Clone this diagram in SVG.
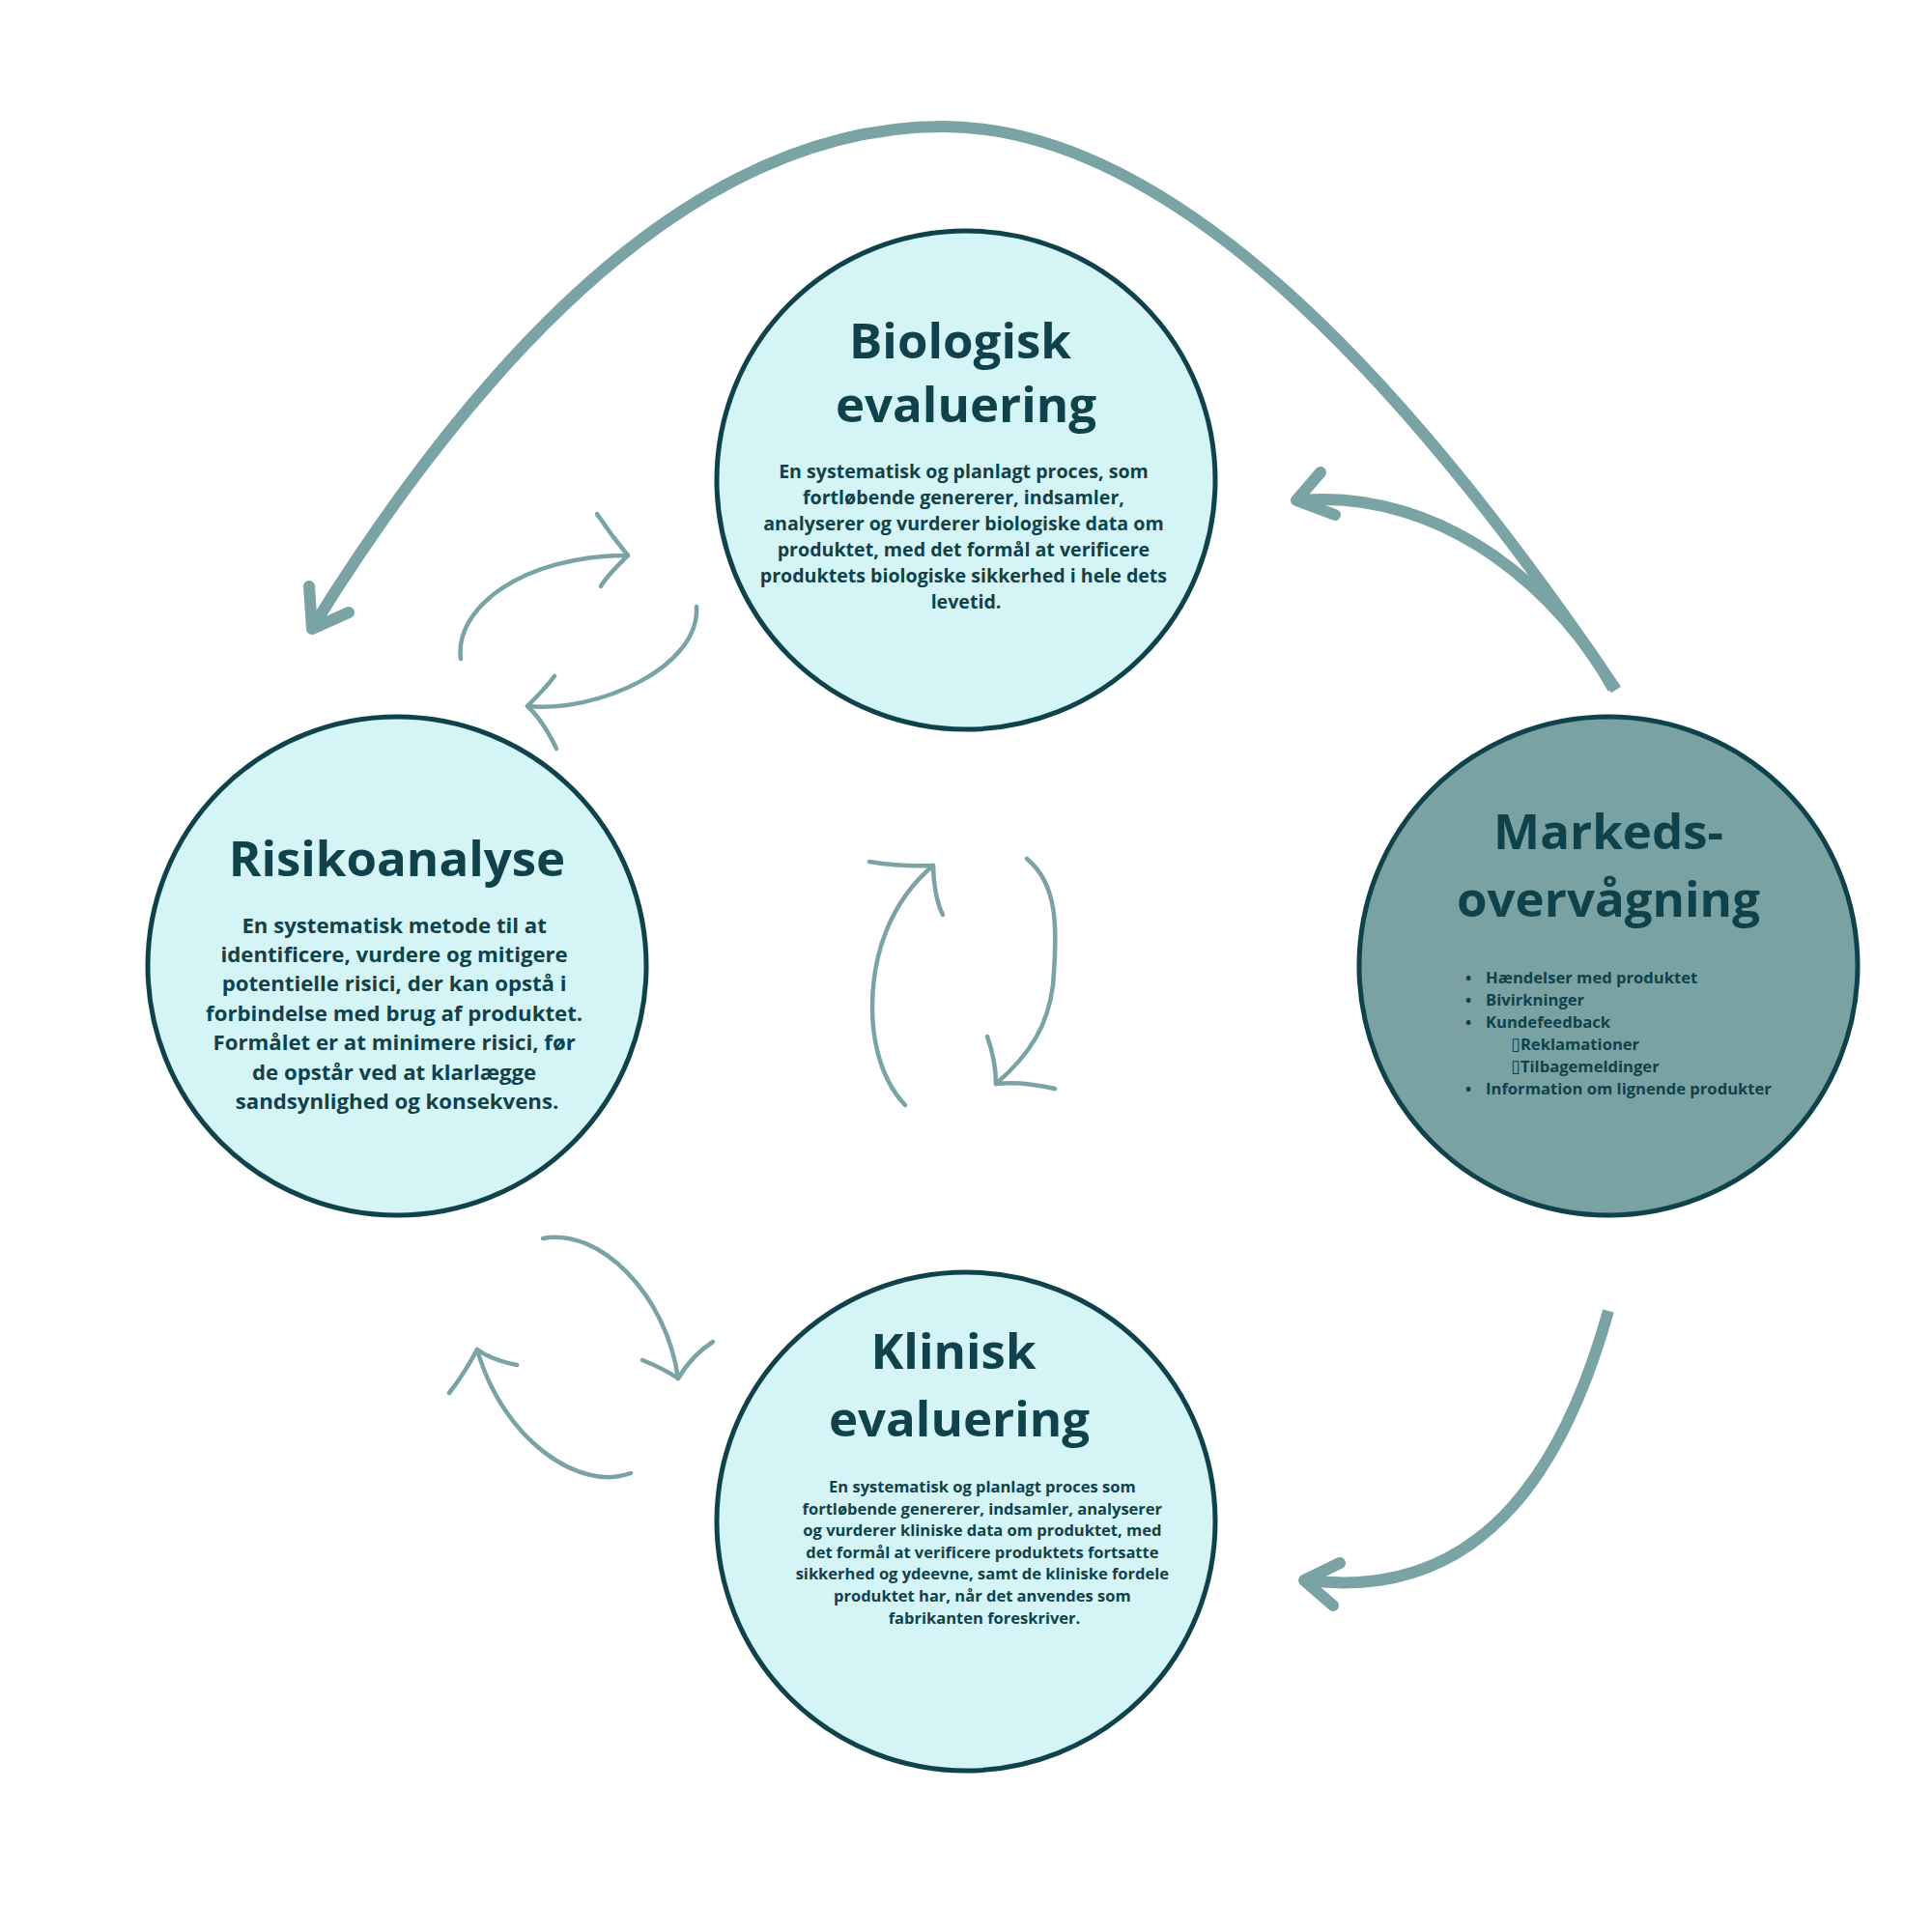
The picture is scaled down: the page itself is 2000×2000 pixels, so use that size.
<svg xmlns="http://www.w3.org/2000/svg" width="2000" height="2000" viewBox="0 0 2000 2000">
<style>
.node-light{fill:#d5f4f6;stroke:#0f424a;stroke-width:5}
.node-dark{fill:#7aa2a3;stroke:#0f424a;stroke-width:5}
.title{font-family:"Open Sans","Noto Sans",sans-serif;font-weight:700;font-size:51px;fill:#0f424a;text-anchor:middle}
.body{font-family:"Open Sans","Noto Sans",sans-serif;font-weight:700;fill:#0f424a;text-anchor:middle}
.list{font-family:"Open Sans","Noto Sans",sans-serif;font-weight:700;font-size:16.6px;fill:#0f424a}
.box{font-family:"DejaVu Sans",sans-serif;font-weight:400;font-size:18px}
.big{fill:none;stroke:#7aa3a5;stroke-width:12;stroke-linecap:butt}
.head{fill:none;stroke:#7aa3a5;stroke-width:12;stroke-linecap:round;stroke-linejoin:round}
.thin{fill:none;stroke:#7aa3a5;stroke-width:4.5;stroke-linecap:round;stroke-linejoin:round}
</style>
<rect width="2000" height="2000" fill="#ffffff"/>

<g id="connectors">
  <path class="big" d="M1673 714 C1477 424 1226 131 976 131 C726 131 508.5 352.5 325 647"/>
  <path class="head" d="M320 607 L323 651 L361 634"/>

  <path class="big" d="M1670 713 C1620 620 1500 505 1346 518"/>
  <path class="head" d="M1367 489 L1342 518 L1382 533"/>

  <path class="big" d="M1665 1357 C1625 1500 1545 1660 1354 1636"/>
  <path class="head" d="M1387 1618 L1350 1636 L1380 1662"/>

  <path class="thin" d="M477 682 C470 630 540 575 650 575"/>
  <path class="thin" d="M618 532 C630 550 640 563 650 575 C640 585 628 596 622 607"/>

  <path class="thin" d="M721 628 C725 690 620 738 546 731"/>
  <path class="thin" d="M574 700 C565 712 555 722 546 731 C558 742 568 758 576 775"/>

  <path class="thin" d="M937 1144 C905 1110 903 1060 903 1043 C903 990 920 935 966 896"/>
  <path class="thin" d="M900 892 C925 896 945 897 966 896 C966 915 970 935 976 947"/>

  <path class="thin" d="M1063 889 C1095 915 1095 960 1090 1020 C1085 1060 1068 1090 1031 1122"/>
  <path class="thin" d="M1022 1073 C1028 1090 1031 1108 1031 1122 C1050 1120 1070 1122 1092 1127"/>

  <path class="thin" d="M562 1282 C620 1270 690 1340 702 1427"/>
  <path class="thin" d="M665 1408 C680 1414 692 1420 702 1427 C712 1410 724 1398 738 1389"/>

  <path class="thin" d="M653 1525 C600 1545 520 1490 494 1397"/>
  <path class="thin" d="M465 1442 C476 1428 486 1412 494 1397 C505 1405 520 1410 535 1413"/>
</g>

<g id="node-biologisk">
  <circle class="node-light" cx="1000" cy="497" r="258"/>
  <text class="title" x="994" y="371">Biologisk</text>
  <text class="title" x="1000" y="437">evaluering</text>
  <text class="body" font-size="19.6">
    <tspan x="1000" y="495">En systematisk og planlagt proces, som</tspan>
    <tspan x="1000" y="522">fortløbende genererer, indsamler,</tspan>
    <tspan x="1000" y="549">analyserer og vurderer biologiske data om</tspan>
    <tspan x="1000" y="576">produktet, med det formål at verificere</tspan>
    <tspan x="1000" y="603">produktets biologiske sikkerhed i hele dets</tspan>
    <tspan x="1000" y="630">levetid.</tspan>
  </text>
</g>

<g id="node-risikoanalyse">
  <circle class="node-light" cx="411" cy="1000" r="258"/>
  <text class="title" x="411" y="907">Risikoanalyse</text>
  <text class="body" font-size="22.2">
    <tspan x="411" y="965.5">En systematisk metode til at</tspan>
    <tspan x="411" y="995.9">identificere, vurdere og mitigere</tspan>
    <tspan x="411" y="1026.3">potentielle risici, der kan opstå i</tspan>
    <tspan x="411" y="1056.7">forbindelse med brug af produktet.</tspan>
    <tspan x="411" y="1087.1">Formålet er at minimere risici, før</tspan>
    <tspan x="411" y="1117.5">de opstår ved at klarlægge</tspan>
    <tspan x="411" y="1147.9">sandsynlighed og konsekvens.</tspan>
  </text>
</g>

<g id="node-markedsovervaagning">
  <circle class="node-dark" cx="1665" cy="1000" r="258"/>
  <text class="title" x="1665" y="879">Markeds-</text>
  <text class="title" x="1665" y="949">overvågning</text>
  <g class="list">
    <text x="1517" y="1017.5">•</text>
    <text x="1538" y="1017.5">Hændelser med produktet</text>
    <text x="1517" y="1040.5">•</text>
    <text x="1538" y="1040.5">Bivirkninger</text>
    <text x="1517" y="1063.5">•</text>
    <text x="1538" y="1063.5">Kundefeedback</text>
    <text x="1564" y="1086.5"><tspan class="box">▯</tspan>Reklamationer</text>
    <text x="1564" y="1109.5"><tspan class="box">▯</tspan>Tilbagemeldinger</text>
    <text x="1517" y="1132.5">•</text>
    <text x="1538" y="1132.5">Information om lignende produkter</text>
  </g>
</g>

<g id="node-klinisk">
  <circle class="node-light" cx="1000" cy="1575" r="258"/>
  <text class="title" x="987" y="1417">Klinisk</text>
  <text class="title" x="993" y="1487">evaluering</text>
  <text class="body" font-size="16.5">
    <tspan x="1019" y="1545">En systematisk og planlagt proces som</tspan>
    <tspan x="1019" y="1567.6">fortløbende genererer, indsamler, analyserer</tspan>
    <tspan x="1019" y="1590.2">og vurderer kliniske data om produktet, med</tspan>
    <tspan x="1019" y="1612.8">det formål at verificere produktets fortsatte</tspan>
    <tspan x="1019" y="1635.4">sikkerhed og ydeevne, samt de kliniske fordele</tspan>
    <tspan x="1019" y="1658">produktet har, når det anvendes som</tspan>
    <tspan x="1019" y="1680.6">fabrikanten foreskriver.</tspan>
  </text>
</g>
</svg>
